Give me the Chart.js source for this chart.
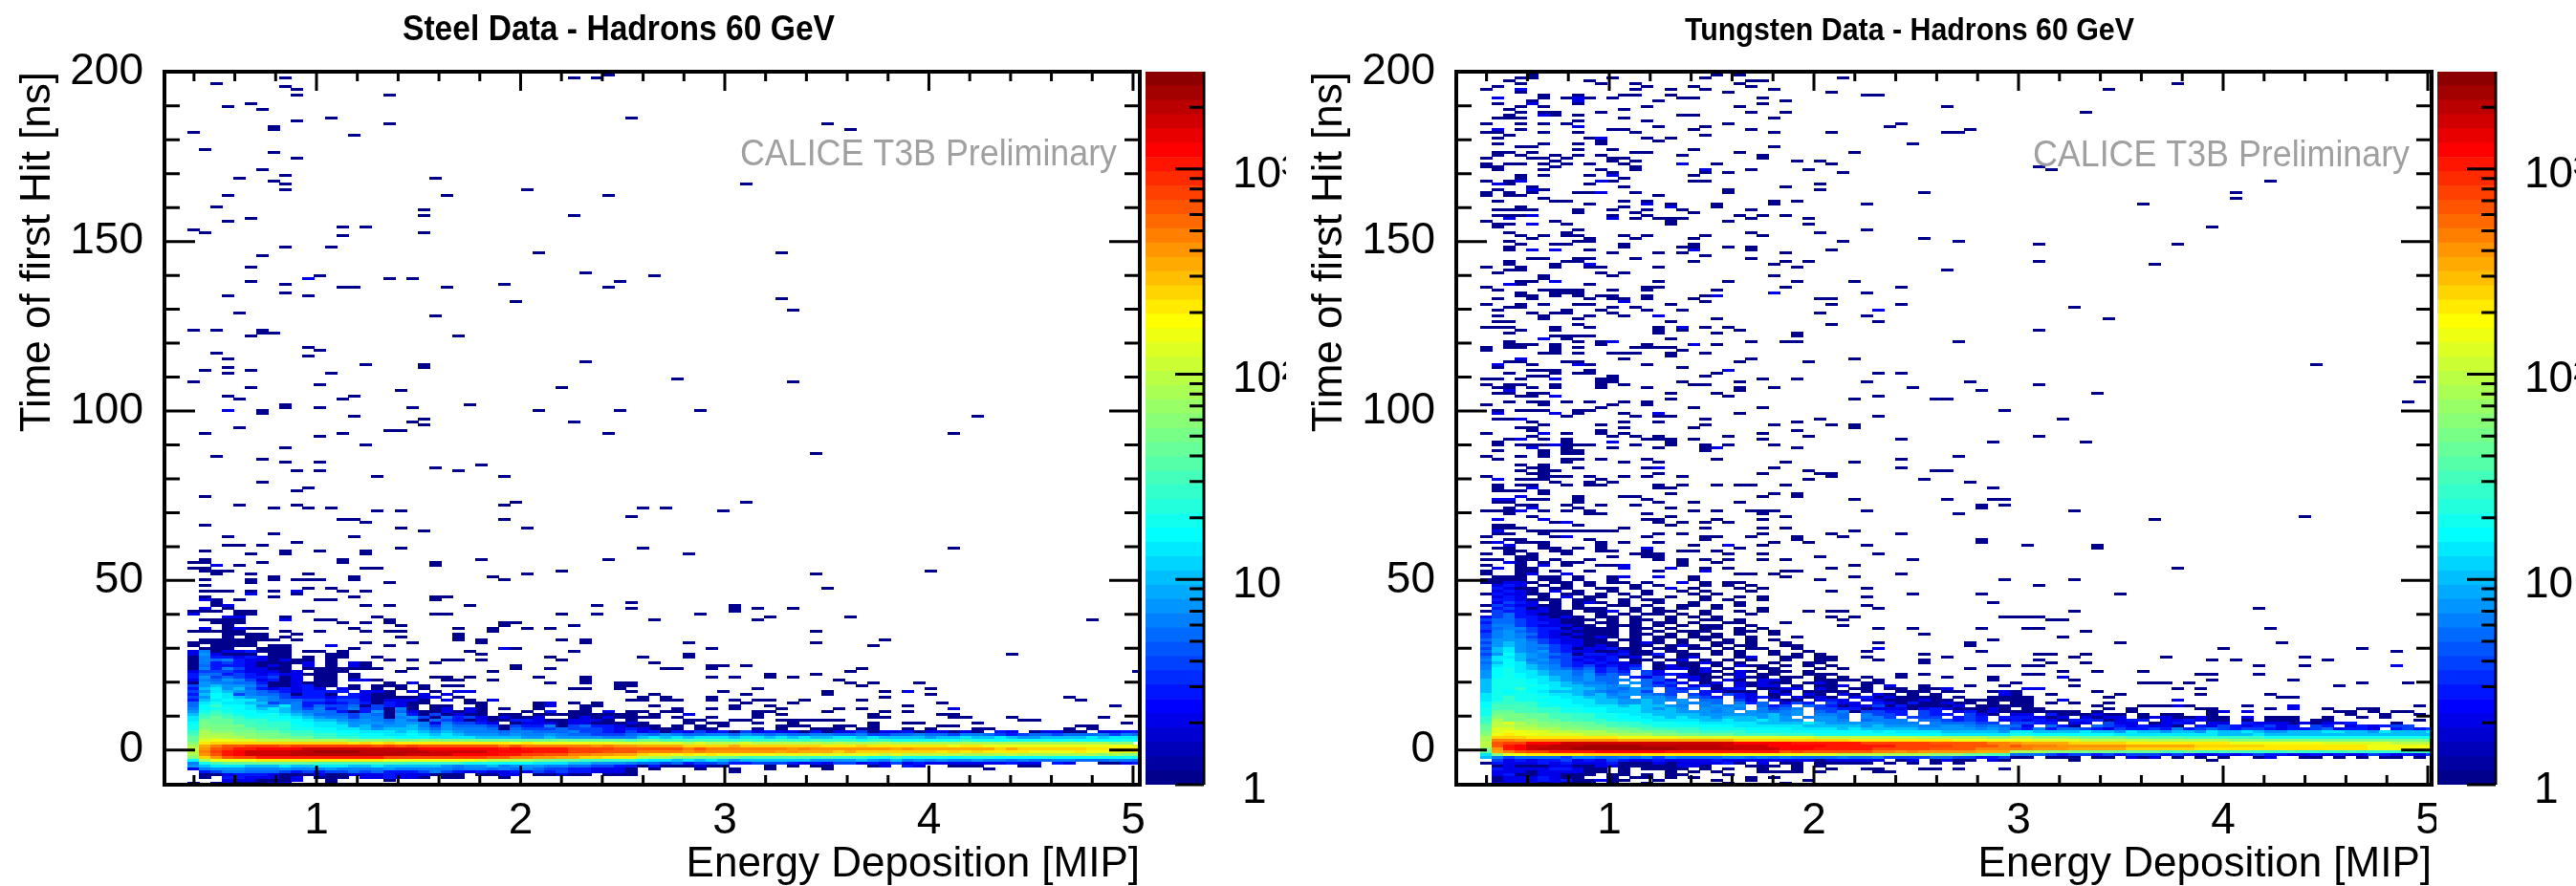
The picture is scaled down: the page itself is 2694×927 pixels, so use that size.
<!DOCTYPE html>
<html>
<head>
<meta charset="utf-8">
<style>
  html, body { margin: 0; padding: 0; background: #fff; overflow: hidden; }
  body { width: 2694px; height: 927px; position: relative; }
  canvas { position: absolute; top: 0; }
</style>
<script src="https://cdn.jsdelivr.net/npm/chart.js@4"></script>
</head>
<body>
<canvas id="steel" width="1197" height="927" style="left:0"></canvas>
<canvas id="steelBar" width="147" height="927" style="left:1198px"></canvas>
<canvas id="tungsten" width="1197" height="927" style="left:1351px"></canvas>
<canvas id="tungstenBar" width="145" height="927" style="left:2549px"></canvas>
<script>
// tick labels and axis ticks
const energyTicks = [1, 2, 3, 4, 5];
const energyMinor = [0.4, 0.6, 0.8, 1.2, 1.4, 1.6, 1.8, 2.2, 2.4, 2.6, 2.8, 3.2, 3.4, 3.6, 3.8, 4.2, 4.4, 4.6, 4.8];
const timeTicks = [0, 50, 100, 150, 200];
const timeMinor = [10, 20, 30, 40, 60, 70, 80, 90, 110, 120, 130, 140, 160, 170, 180, 190];
const countTicks = [1, 10, 100, 1000];
const countMinor = [2, 3, 4, 5, 6, 7, 8, 9, 20, 30, 40, 50, 60, 70, 80, 90, 200, 300, 400, 500, 600, 700, 800, 900, 2000];
const countLabels = {1: '1', 10: '10', 100: '10²', 1000: '10³'};

// letter code used in the dense rows -> bin content
const countCode = 'abcdefghijklmnopqrstuvwxyzABCDEF';
const countValue = [1, 2, 3, 4, 5, 6, 8, 10, 13, 16, 20, 25, 32, 40, 50, 63, 80, 100, 125, 160, 200, 250, 320, 400, 500, 630, 800, 1000, 1250, 1600, 2000, 2500];

// steel: dense part, time bin 46 (first string) down to time bin 0, one letter per energy bin
const steelDense = [
  'bfabbcaaa. aa.a',
  'bgbaaa.aa. ..aa',
  'afccbcbaa. a.a',
  'afefcbbaba a.a',
  'afcdcbaaaa b.a.ba',
  'aecccbaba. b.a.ba',
  'afcfdbbaa. aaaaaaa',
  'bdddcbbbab .aaa',
  'ceecdcbcbb aaa.a',
  'cgdedccdab .aa.a',
  'bfegfdbcab .aa.bba',
  'agffeecaab aaa....a.b',
  'dghggfdaab caa.a.aaa. a.aa',
  'chighecbcb cb.ba.a.a. a',
  'dgihgfedcb cccc.bba.b .a.bb',
  'chjidfeeda cca.cbaa.. b.b',
  'dgjihggfdc ccbccbaaaa bb.a',
  'chijiigfee ddcddbabbb a.b.a.b',
  'eikiihhdef ccbcdcacba a...aa....ab.a.a',
  'ejljjiggif ceddeadcba .aa..a....ab..aa',
  'fjkkjihihf dfcdfcdafa .ab.ba.a..a...a',
  'gklkjjiihg ffecacgaeb aababa...a .c.aa.b',
  'hlmlkjjkih geeedfeagc adabaa.aa. aaaaaaaaa',
  'imnmlkkkji hgffdffafg daecdbabaa b..ababaaa',
  'innnmllkkj ihhgfgfege aedcabaacc baabbba.a',
  'jonnmmlllj jiihgggfgg fbfddcb.ab bbabbaaab',
  'koooommllk jiiighfggh fdgeeedadc cfadeccba',
  'kpoonnmmlk kjjiihghhh gegfffeaed ddedddcbcb',
  'lqppoonnml lkkjjiiihi hghgfffeff eeefddcbd bcacbdbcadbcbbacabbdabbcabbaba.cb.abbaa.bbcc',
  'mqqqppoonm mllkkjjiij ihihgggfgf fgfeeddde fegfeeffegfefeeffeefddeefeedffedcdeedeeefdfe',
  'nrrqqppoon nmmllkkkjj jiiiihhhhg ghggggfff hihihiiihiihihihhiihihhhhghhihhihgghhhhihiii',
  'nsttssrrrq qqqqppppoo ppooonnnnn nnonnnnnm nnmmmmmmlmllmllmlllkllkkkkkklkkjkkkkjkjjjjkj',
  'puvvvvvvvv vvvvuvuvuu uuuuuuuutu ttttttts sssssrsrrrsrrrrrrqrqqqrqqqqqqqqqqqqqqqqqqqpp',
  'qwyzzAAAzA AAAAAAzAzA zzzzzzzyzy yyyyyxyxx wwwwvvvvwvvvvvvvuuuvuuuuuuutuuttttttttttttts',
  'rxzABBCCCC DDDDDDDDDD CCCCCCCBCB BBBAAAAzz zzzzyzyyyyyyyxyxxxxxxxwxwwwwwwwvwvvvvvvuuuuu',
  'ryABCDDDDE EFFFFEEEEE EDDDDDCCCC BBBAAAzzzy yyyxyxxxxxxwxwwwvwvvvvvvvuvuvuuuuttttutttttt',
  'qxzBCDDDDE EEEEEEEEED DDDCCCCBBA AzzyyxxwwV'.replace('V', 'v') + 'uutututttttststsssssrsrrrrrqqqqrqqqqqqqpqppp',
  'pvxzAABBBB BBBBBBBAAA AAAAAAzzyy xxwwvvuuu nnnnnnnnnmmmmmmlmlllkklkkkkjkkkjjjjkjjjjkjkk'.replace('nnnnnnnnn', 'rqqppoonn'),
  'jqttttuuuu uuuuuuuttt tttttsrrqq ponnmmlll jiihihihghhhhhhgggghgfhfgfgffgffefeeffeeeffe',
  'fkmnnnnnnn nmmmmmmmml llllkkkjjj iiihhgggf eedecddeccdddcbcbddbcbdbcbbbbbbbcbb.cb..aabcb',
  'ghiiihhhih hiiihhihhh hhgfgghfgg gffeeddcc acaaabaa...a.a.aa...ab.cb..aaa...aa',
  'bfgggfffgf ffgffffgff fffeffefef eddccbbba .a...a..a..a....a.............a',
  '.cdffeeedc dcddedeccc dfdcbcbbcb dcdccbbba ........a',
  '.aabcccbaa abaabbbcbb baaa.aabb. aabaa.aaa',
  '.a.ccbbbab .aaa.bbcbb a.aa...a',
  '...bbbaaab ..a....a',
  'a.abaaabb. ..a',
];

// steel: isolated bins with one entry, [time bin, energy bins...]
const steelSingles = [
  [247,36],[246,8,33,35],[244,2],[243,8],[242,9],[240,9,17],[237,5],[236,3],[235,6],[232,12,38],[231,9],[230,17,55],
  [229,7],[228,7,57],[227,0],[226,14],[221,1],[220,7],[218,9],[214,6],[212,8],[211,4,21],[210,7],[209,8,48],[207,8,29],
  [205,3,22,36],[201,2],[200,20],[198,20,33],[197,5],[196,3],[194,13,15],[193,0],[192,1,20],[191,13],[187,8,12],
  [185,30,51],[184,6],[180,5],[178,34],[177,11,40],[176,17,19],[175,5,37],[174,8,27],[173,13,14,22,36],[171,8],[170,3,10],
  [169,51],[168,28],[165,52],[164,4],[163,21],[158,0,2,6],[157,6,7],[156,5,23],[152,10],[151,11],[150,2],[149,10],[148,3],
  [147,34],[146,15,20],[145,3,20],[144,1,5],[143,3,12],[141,42],[140,0,52],[139,11],[138,5,32],[137,18],[135,3,14],[134,4,13],
  [132,8,24],[131,8,11,19],[130,6,30,37,44],[129,6],[128,14,68],[127,20],[126,19,33],[125,20],[124,4],[123,17,18],[122,1,13,36,66],
  [121,11],[118,15],[117,8],[115,54],[114,2],[113,6],[112,8,11],[111,25],[110,21],[109,9,11,23],[107,16,27],[105,6],[103,10],[102,9],
  [100,1],[98,28,48],[97,4,9,27],[96,7,10,12,39,41],[95,16,18,46],[93,38],[92,13,14,27],[91,15],[90,1],[89,18,29],[88,20],[87,7],
  [86,3,14],[84,9],[83,3,4,6],[82,18,39,66],[81,1,8,11,15],[80,5,8,15,43],[78,1,13,25,36],[77,0,1,6,13,21],[76,4,21],[75,0,1,15,16],
  [74,1,2,3,32,64],[73,2,5,10,29,54],[72,7,14,26],[71,1,5,7,9,10,11,14,27],[70,5,17],[69,1],[68,10,12,55],[67,1,2,3,5,7,13,15],[66,9],
  [65,1,7,14,21,22],[64,2,4,11,12,21],[63,2,38],[62,2,15,17,24,35,47],[61,3,38,47,49,52],[60,0,1,2,4,5,10,47],[59,4,5,21,22,32,35,44],
  [58,8,16,50,57],[57,1,2,3,4,11,12,17,40,49,78],[56,2,3,4,13,15,17,27,28],[55,3,18,27,33],[54,3,5,6,14,23,26,29,31],
  [53,0,1,2,3,4,8,11,15,17,18,26,54],[52,3,4,5,6,9,23],[51,3,5,6,8,18,23],[50,1,2,3,4,5,6,7,9,23,25,32,34,60],
  [49,0,1,2,3,4,5,15,19,25,34,43,54],[48,0,2,3,4,5,7,8,17,59],[47,1,2,3,6,7,8,14,28,45],
  [46,24,33],[45,25,43,71],[44,13,16,31,39,43],[43,17,19,22,23,25,32],[42,21,40],[41,28,45,46,48],[40,19,28,31,41,42,45,58],
  [39,18,26,57,82],[38,50,54],[37,21,22,24,30,34,45,47,50,52],[36,22,23,26,34,56],[35,31,34,37,38,57,59,63],[34,37,38,58],
  [33,33,34,37,49,64],[32,38,46,55,60],[31,40,48,55,64],[30,39,41,45,60,76],[29,38,39,41,42,45,47,49,50,53,58,77],[28,48,52,65],
  [27,40,47,50,62,80],[26,42,45,47,51,56,58],[25,38,39,41,42,49,50,55,60,62],[24,38,40,49,51,59,65,66],[23,38,40,42,45,49,59,60,66,67,71,79],
  [22,43,44,47,48,51,52,53,54,55,56,72,73],[21,38,39,43,45,46,49,52,59,62,63,68,81],[20,39,40,42,44,46,51,52,53,56,57,59,65,66,77,78],
  [19,40,41,42,44,45,49,51,54,55,56,58,59,62,64,68,69,76,78],
];
// steel: isolated bins with two entries
const steelDoubles = [
  [176,10],[130,3],[76,2],[67,9],[66,5],[64,1],[62,3],[61,1],[59,0],[58,3,4],[57,8],[54,1,4],[48,12],[47,27],[32,62],[26,66],[24,43],
];

// tungsten: dense part, time bin 70 (first string) down to time bin 0
const tungstenDense = [
  'aabba.aa.a .aa.a..b.a .aa',
  '.bcb.a.a.a ...a.a...a .a.a',
  '.cbaa.aa.. aa.a..b.a. ..a.a',
  '.bcba.b.a. .a..a..a.a ...a',
  'acbbaa.aa. a.a.a...a. a',
  '.bcb.a.b.a a..a..a..a ..a.a',
  '.ccbaaa.aa ..a.aa...a .a..a',
  '.bdcb.a.ab a.a..a..a. ..a',
  'adcbbaa.a. .aa.a..aa. a.a',
  '.cdcaba.aa a..a.a.a.. a...a',
  'adccbbaa.a ab.a.aa..a ..a.a',
  '.decbaaa.. a.a.aa.a.a ...a',
  'bdeccbaba. aa.a..a.a. a',
  'deedcbbaaa .a.aa.a..a a.a',
  'ceedccbaa. aa.a.aa.a. .aa...a',
  'dffdcbbbaa .aaa.a.a.a a..a',
  'deffdccaba aa.aa.a..a a.a.a',
  'cfgedcbbaa aa.a.a.aaa ..aa.a',
  'dfgfecbaba aa.aa.a.a. a.a..a',
  'dfgfdcbbaa ba.a.aa.aa a..a...a',
  'egggedcbba a.aa.a.a.a .a.a.a',
  'dghgfdcbba aa.aba.a.. aa.a..a',
  'eghgffdcba ba.aa.aba. a.aa..aa',
  'dhigfedcab bcaa.aa.aa .a.aa..a',
  'ehigfgdcbb aabaa.aa.. a.a..a..a',
  'dgjhgfedac cbcaac.aa. a.a..a.a.a',
  'eiihgfddcb bcab.a.ab. ..ab..aa.a',
  'fijhfgedbc bc.aa.ab.a .a.a..a..a',
  'ehjigfedcb cbba.a.aab a.a..a..aa',
  'fijihgfdcd bcbc.abaa. a.baa.a.a.a',
  'fjkihgfede cdbd.abbab .a..aa...a',
  'gjkiihggef cdc.db..ab a.ba.aa.a',
  'gjkjihggeg ded.dbcbaa .ab.aa..aa a',
  'gjkjiihgfg ee.cbd.bba a.baa.aa.a .a',
  'hkkkjihgfg eef.edb.ba .ba.bba..a a.a',
  'hkkkjiihgf fe.gecdb.a b.babaa.ab a..a',
  'hkkkkjihhg gfg.edc.bc a.babb.a.a ab.a.a',
  'hkkljjiihh gfegf.dcd. abc.aabb.b a.aa.aa',
  'hkjkjihhhg fefgd.dd.c baaa.ba.aa .a.a..a.a .aa...ba',
  'ikkkkjiihg hfggfed.dc .dcb.ab.ba .ba.ba.a.a',
  'iklkkkjiih hgf.gge.ed c.cbca.bab a.bc.ba.aa .a',
  'iklkkjjjii hhgghgfg.e e.db.caa.b cb.bbaa.ba a.a.a',
  'jllllkjjii hhgghg.gff e.fce.bdc. dbb.cbac.a ba..a',
  'jmmmlkkjji iihihhgf.f gfg.ecd.ed c.bbd.ca.a ab.aa..a',
  'kmmmmllkkj jiiihghg.g fgf.fdef.d dcc.bbb.bc ba.aba..a',
  'knnmmllkkj jiiihhhggg fg.gfefg.e df.ddcc.dc .bc.baa.aa .a.a',
  'kooonnmmll kkjiihhhhg ggggghfg.f fe.fddc.dc c.dba.bb.c aa.baa',
  'lpoonnmmll kkjjiihihh ghhhghg.fg ge.ffd.ddd .cdc.cccba b.babb.abb aa.a',
  'lqoopnnmml lkkjjiiiih hihhihgg.g gf.efff.ee dcdc.bcbcb .ccc.bcc.b bcb.a.a..aa',
  'mrsqppoonn mmllkkkjji iiiihhhhih gggggfff.f eeedd.ddcc .bb.dbb.ab cb.bb.cbbb .babbc',
  'nrrqqppoon nmmllkkkkj jjiiiiiihh hhhghgggff ggfefe eb.eca.edcb cbba.cbdcbcdbc.dc.bcbcdd',
  'nssrrqqppo oonnmmlllk kkkjjjjiii ihihhhhhgg gggfgf dcfceedcbd ccdcfcdedc ddcbccdebc cb.cdcdeeb',
  'osttssrrqq qppoonnmml lllkkkkkjj jjjjijiiii hhhhhg iihhhhihhg ihhghhgihh ihgghhhiih hgihhhihi',
  'ptuttssssr rrqqqppoon nnmmmmlllk kkkkkkjjjj iiiiii kkjjjjjjji iiiiiiiihh hihhhhhhhh hhhhhhhhh',
  'qvvvuuuuuu uutttttsss sssssssssr rrrrrrrrqq qqqqpp qqppponnnn mmmmmlllll llkkkkkkkk kkkkkkkkk',
  'qyyxxxxxxx xxwwwwwwww wwvvvvvvvv vvuuuuuuuu uttttt ttssssrrrr rrqqqqqqqp ppppppoooo oooooonnn',
  'rzAACCCDDD DDDDDDDDDD DDCCCCCBBB BBBAAAAAAz zzzzyy xwwwwvvvvv uuuuuuuuut tttttttsss sssrrrrrr',
  'rzBCDDEEEF FFFFEEEEEE EDDDDCCCCC BBBBBBAAAA Azzzzy zyyyxxxxxx wwwwwwvvvv vvuuuuuuuu utttttttt',
  'pxBCDEEEFF FFFFFFFEEE EEDDDDCCCB BBBBAAAAAz zzzyyy yyxxxwwwww vvvvvvuuuu uuuuuuuuuu uttttttu',
  'nwyzAABBBB CCCCCCBBBB BBBBBBzAzz zzzzyyxyxx xxxwww qqqppoooon nnnmmnmmmm mlmlmllllm lllllllll',
  'ipstuuuuuv vvvvuuuuuu utttttttss srrrrqqqqp ppnnmm eeedcddcdc dddcdcbbcb cdccbbcbcb bdcbcbddh',
  'hfdeeeedff eefefdfeee effefefeee efeefdddde eddccd aa.aaa.aa. bab.a.a.a. .ab..aa.a. a.aa.a.a',
  '.dbcbccdbc bdcbbcbbbb cbbbbbbbba bbbbb.ab.a baa.ba .....a.... .......a',
  'acbbbcbcbb bcaaababbb bca.b.aa.a aaaa.a.a.a .a....',
  '.abaaabbaa bbaaaaabba ...aaa.a.a',
  '.cbbbbccba a.a.aaaa.a .a..a..a.. a..aa...aa .a...a',
  '.bbbabbbba a.a...a.a. a...aaaa.a ....aa',
  '.bcaabbaaa .aa.a.aa.. .a',
  '.abbbcbaa. .a.aa.a.a. ...a.a',
  '.abbbcbcaa baa..a.... a..a....a',
  '.bbbbabaaa .a..a..... .a....a',
];

// tungsten: isolated bins with one entry, [time bin, energy bins...]
const tungstenSingles = [
  [248,1,3,4],[247,4,20,22],[246,3,4,11,19,31],[245,2,9,23,24],[244,3,10,13,22,60],[243,1,14,18,23],[242,0,13,16,19,25,54],[241,3,21,30],
  [240,5,8,12,13,16,33,34],[239,5,7,9,11,17,18,24],[238,4,15,26],[237,1,8,24],[236,3,5,14,22,40],[235,2,12],[234,3,5,6,10,23,26,52],
  [233,2,6,8,17,18],[232,1,2,3,12,25],[231,8,14],[230,0,3,5,7,21,36],[229,15,19,35],[228,3,11,12,18,23,42],[227,0,1,5,8,13,25,30,40,41],
  [226,2,19],[225,1,9,14,16],[224,10,15],[223,1,5,8,10,37],[222,3,4,25],[221,8,11,18],[220,1,2,4,13,14,22,32],[219,1,3,6,8,10,17,24],
  [218,0,4,5,7,11,12,24],[217,6,11,13,27,29],[216,0,2,3,5,7,9,12,17,20,30],[215,0,1,6,13,48],[214,1,5,10,13,23,28,49],[213,11,19,21,31],
  [212,3,5,9,18],[211,3,12],[210,0,2,11,18,19,68],[209,2,9,29],[208,4,12,26],[207,1,5,21,29],[206,0,2,4,8,9,13,21,38,65],[205,0,2,3,15],
  [204,5,65],[203,1,6,7,12,14,25,27],[202,9,16,20,25,33,57],[201,3,12,20],[200,1,3,8,11,14,17,2,4,23],[199,8,13,18],[198,1,2,3,11,14,22,24,26],
  [197,11,13,15,16,17,23,28],[196,0,6,16,21],[195,1,2,7,16,28],[194,1,63],[193,8,33],[192,2,7,23,29],[191,3,5,7,8,12,14,19,24],
  [190,4,9,13,18,38],[189,2,8,9,31,41],[188,3,6,7,12,18,48,60],[187,2,12,17,18,21,23],[186,2,9,23,30],[185,26,11,15,17],[184,19],
  [183,4,5,8,9,13,23],[182,2,7,8,18,26,28,48],[181,2,6,25,58],[180,0,3,6,10,15,27,9],[179,2,3,40],[178,1,10,12],[177,5,11,25],[176,5],
  [175,3,4,15,21,27,32],[174,3,9],[173,0,14,15,26,36],[172,1,5,6,7,8,11,14,20],[171,3,6,7,8,33],[170,3,4,6,14,19,8,10,11],[169,1,4,14,9,11,12,18,29,30],
  [168,12,19],[167,0,3,5,8,9,16,30,36],[166,2,3,11,13,51],[165,1,7,10,14,17],[164,4,6,7,11,29],[163,1,5,9,12,33],[162,5,8,20,54],[161,1,2,16,34],
  [160,8,30],[159,0,1,2,6,9,15,19,21],[158,3,6,15,17,22,48],[157,2,15,20,27],[156,6,7,8,9,27],[155,7,16],[154,2,8,10,23,26,27,41],[153,3,4,6,2,10,14,20],
  [152,0,2,3,6,8,13,14,15,16],[151,0,6,17],[150,5,6,8,11,12,13,16,19],[149,16],[148,12,23,32],[147,2,3,7,8,22,28],[146,4,9,14,72],[145,1,17],
  [144,4,5,6,9],[143,2,6,8,9,20,34,36],[142,4,5,11,19],[141,0,1,3,10,11,24,27],[140,10,11,17,22,33,42,81],[139,0,2,3,6,10,12,18,19,48],[138,1,2,4,6,10,14,22,25,37],
  [137,22,43],[136,1,2,4,5,16,20,53],[135,3,4,21,34],[134,16,32,39,40],[133,2,4,5,7,9,12,14,80],[132,0,5,11,14],[131,10,18,24],[130,1,3,4,5,8,9,45],
  [129,8,12,22],[128,7,13,15,16,34],[127,1,2,19,29,50],[126,4,12,15,27],[125,5,10,19,25,30,32],[124,3,4,12,18,32],[123,4,10,27],[122,0,7,10,12,24],
  [121,4,11,13,15,21,28,48],[120,2,5,7,14,15,16,18,24,36],[119,1,7,16,44,52],[118,1,3,4,5,7,8,9,13,16,19,21,25],[117,7,11,15,19,27],[116,1,5,7,8,19],
  [115,5,7,8],[114,0,3,5,41],[113,1,7,8,10,14,20,36],[112,7,12,15,26,32],[111,3,5],[110,4,5,8,14,25,36],[109,3,5,6,28,39,40],[108,4,5,15,24,29,30],
  [107,0,5,6,7,9,12,14,17,30],[106,3,4,5,10,28,38],[105,6,9,11,42],[104,1,3,4,7,9,10,15,17,20,22,23,26],[103,1,15,16,44],[102,1,2,3,5],[101,5,16,25,27],
  [100,8,12,13,24,27],[99,4,5,8,14,32,40,44,45],[98,1,2,8,15,18,22],[97,3,4,7,10,13,43,45],[96,2,8,16,43],[95,0,1,2,5,7,9,18,20,23,24,25,33,51],
  [94,2,9,10,14,24,41],[93,4,16,26,71],[92,14,15,20,24,58],[91,6,15,17,19,21],[90,1,2,8,16],[89,1,2,3,12,19,24,26],[88,4,5,6,7,8,9,10,11,32],
  [87,1,2,5,15,17,24,30,36],[86,0,6,14,19,20,23,27,31],[85,2,3,9,19,27,43],[84,0,3,4,5,10,12,15,25,28,43],[83,5,10,18,24,33,47,53],[82,1,2,5,6,8,10,22,53],
  [81,2,3,6,7,10,11,14,17,18,20],[80,0,2,4,7,13,14,15,21,24,34],[79,3,4,11,14,15,29],[78,0,1,3,4,6,9,15,17,19,21,24,26,37],[77,3,5,7,8,17,20],[76,0,3,7,10,11,17,32],
  [75,3,4,19,21,30,60],[74,0,3,4,6,9,15,26,27],[73,0,3,22,23,25,36],[72,1,2,3,5,6,8,11,18,26,32],[71,0,1,2,3,5,6,8,11,18,29,45,51],
  [69,48],[68,33],[67,30],[66,37,43,55],[65,33],[63,44],[62,33],[61,34,67],[60,28,30,31,51],[58,30,32,45,46,47,48],[57,31,49,50],[55,31],[54,34,37,43,47,48,68],
  [53,52],[52,38],[51,50],[50,44],[49,34,42,55,69],[48,42],[47,64,76],[46,33,43,79],[45,38,48,49,52],[44,30,33,40,51,59,71],[43,30,34,38,48,63,65,73],
  [42,38,49,52],[41,44,45,47,48,67,71,79],[40,31,42],[39,50,53,57],[38,36,38,47,48,62,63,67],[37,33,36,40,44],[36,31,32,34,44,51,63,70],[35,33,34,46,57,58,59,61,76,80],
  [34,38,42,45,51,74],[33,38,39,60,62],[32,30,33,37,44,45,53],[31,37,46,49,55,62,68],[30,30,34,35,37,38,41,44,45,46,47,54,69,70],[29,31,33,36,37,39,40,42,43,45,46,47],
  [28,30,32,34,35,37,38,41,42,44,46,47,49,51,54],[27,31,33,35,36,38,39,40,43,45,46,47,53,57,58,59,61,66,81],[26,30,31,33,34,36,37,40,41,42,44,45,47,54,56,62,63,68,73,76,77],
  [25,32,33,35,36,38,39,41,43,44,46,47,48,49,50,56,63,74,75,77,79,80],
  [24,52,53,57,59,60,63,75,78,81],[23,47,48,52,53,54,55,59,64,68,69,70,73,76,78],[22,46,47,48,49,50,54,56,60,63,64,66,68,70,72,73,81],
  [21,48,54,56,60,63,68,70,71,79],
];
// tungsten: isolated bins with two entries
const tungstenDoubles = [
  [242,3],[239,1,8],[238,8],[237,4],[233,5],[229,8],[228,1],[225,10],[216,17],[214,19],[212,11],[210,3,10],[209,1],[207,4],[206,10],[202,14],[201,16],[198,4],
  [197,2,11],[195,4],[186,4,6,18],[181,9],[175,6],[174,2],[171,25],[170,20],[168,12],[165,34],[163,15],[159,17],[155,5],[154,11],[153,18],[148,3],[146,1,8],
  [144,21],[141,6],[137,2],[135,6],[129,1,6,15],[127,3],[122,5],[120,3],[119,11],[118,6],[117,4,20],[110,15],[106,1],[103,4],[100,3],[99,1,2],[96,4],[95,3],
  [92,1,5],[91,7],[88,1],[86,7],[84,1],[83,2,21],[82,14],[77,2],[76,5,12],[75,1,12,16],[74,19],[73,4,7],[72,12,15],[47,34],[41,79],[37,50],[34,35],[33,40,47,48],
  [31,45],[29,50,60],[27,60,70],[26,70],[25,64,66],[23,62,66],[21,46,47,51,59],
];

const zMax = 2980;
const paletteStops = [[0, 0, 0, 128], [0.11, 0, 0, 255], [0.35, 0, 255, 255], [0.5, 128, 255, 128], [0.65, 255, 255, 0], [0.89, 255, 0, 0], [1, 128, 0, 0]];
const paletteSize = 50;

function paletteColor(f) {
  let i = 1;
  while (i < paletteStops.length - 1 && paletteStops[i][0] < f) i++;
  const a = paletteStops[i - 1], b = paletteStops[i];
  const t = (f - a[0]) / (b[0] - a[0]);
  const ch = k => Math.round(a[k] + (b[k] - a[k]) * t);
  return `rgb(${ch(1)},${ch(2)},${ch(3)})`;
}
const palette = Array.from({length: paletteSize}, (_, i) => paletteColor((i + 0.5) / paletteSize));

function colorForCount(count) {
  const f = Math.log10(count) / Math.log10(zMax);
  return palette[Math.min(paletteSize - 1, Math.floor(f * paletteSize))];
}

// one small canvas per colour, used as point style so the cells stay scatter points
const sprites = {};
function cellSprite(color) {
  if (!sprites[color]) {
    const c = document.createElement('canvas');
    c.width = 13;
    c.height = 3;
    const g = c.getContext('2d');
    g.fillStyle = color;
    g.fillRect(0, 0, 13, 3);
    sprites[color] = c;
  }
  return sprites[color];
}

function collectBins(dense, singles, doubles) {
  const bins = new Map();
  const put = (row, col, count) => {
    const key = row + ':' + col;
    if (!bins.has(key) || bins.get(key).count < count) bins.set(key, {row, col, count});
  };
  singles.forEach(([row, ...cols]) => cols.forEach(col => put(row, col, 1)));
  doubles.forEach(([row, ...cols]) => cols.forEach(col => put(row, col, 2)));
  dense.forEach((text, i) => {
    const row = dense.length - 1 - i;
    text.replace(/ /g, '').split('').forEach((ch, col) => {
      const code = countCode.indexOf(ch);
      if (code >= 0) put(row, col, countValue[code]);
    });
  });
  return [...bins.values()];
}

const frame = {
  id: 'rootFrame',
  afterDatasetsDraw(chart, args, opts) {
    const {ctx, chartArea: a, scales: {x, y}} = chart;
    ctx.save();
    ctx.strokeStyle = '#000';
    ctx.lineWidth = 3;
    const xTick = (v, len) => {
      const p = x.getPixelForValue(v);
      ctx.moveTo(p, a.top); ctx.lineTo(p, a.top + len);
      ctx.moveTo(p, a.bottom); ctx.lineTo(p, a.bottom - len);
    };
    const yTick = (v, len) => {
      const p = y.getPixelForValue(v);
      ctx.moveTo(a.left, p); ctx.lineTo(a.left + len, p);
      ctx.moveTo(a.right, p); ctx.lineTo(a.right - len, p);
    };
    ctx.beginPath();
    energyTicks.forEach(v => xTick(v, 20));
    energyMinor.forEach(v => xTick(v, 10));
    timeTicks.forEach(v => yTick(v, 32));
    timeMinor.forEach(v => yTick(v, 16));
    ctx.stroke();
    ctx.lineWidth = 4;
    ctx.strokeRect(a.left, a.top, a.right - a.left, a.bottom - a.top);

    ctx.fillStyle = '#000';
    ctx.font = `bold ${opts.titleSize}px "Liberation Sans"`;
    ctx.fillText(opts.title, opts.titleX, 42, opts.titleWidth);
    ctx.fillStyle = '#a0a0a0';
    ctx.font = '38px "Liberation Sans"';
    ctx.fillText('CALICE T3B Preliminary', opts.noteX, opts.noteY, 394);
    ctx.restore();
  }
};

function drawPanel(id, bins, o) {
  const timeBin = 0.8458, timeMin = -10.23;
  new Chart(document.getElementById(id).getContext('2d'), {
    type: 'scatter',
    data: {
      datasets: [{
        data: bins.map(b => ({
          x: o.energyStart + (b.col + 0.5) * o.energyBin,
          y: timeMin + (b.row + 0.5) * timeBin,
          count: b.count
        })),
        pointStyle: c => cellSprite(colorForCount(c.raw ? c.raw.count : 1)),
        pointRadius: 1,
        pointBorderWidth: 0
      }]
    },
    plugins: [frame, {
      id: 'crisp',
      beforeDatasetsDraw: chart => { chart.ctx.imageSmoothingEnabled = false; }
    }],
    options: {
      responsive: false,
      animation: false,
      devicePixelRatio: 1,
      events: [],
      layout: {padding: {top: 75, right: 5, left: 0, bottom: 0}},
      plugins: {
        legend: {display: false},
        tooltip: {enabled: false},
        rootFrame: o.text
      },
      scales: {
        x: {
          type: 'linear',
          min: o.xMin,
          max: o.xMax,
          afterBuildTicks: s => { s.ticks = energyTicks.map(value => ({value})); },
          afterFit: s => { s.height = 106; s.paddingLeft = 0; s.paddingRight = 0; },
          grid: {display: false},
          border: {display: false},
          ticks: {
            color: '#000', padding: 3, autoSkip: false, maxRotation: 0,
            font: {family: 'Liberation Sans', size: 46}
          },
          title: {
            display: true, text: 'Energy Deposition [MIP]', align: 'end', color: '#000', padding: 0,
            font: {family: 'Liberation Sans', size: 44, lineHeight: 1}
          }
        },
        y: {
          type: 'linear',
          min: timeMin,
          max: timeMin + 746 * timeBin / 3,
          afterBuildTicks: s => { s.ticks = timeTicks.map(value => ({value})); },
          afterFit: s => { s.width = 172; s.paddingTop = 0; s.paddingBottom = 0; },
          grid: {display: false},
          border: {display: false},
          ticks: {
            color: '#000', padding: 14, autoSkip: false,
            font: {family: 'Liberation Sans', size: 46}
          },
          title: {
            display: true, text: 'Time of first Hit [ns]', align: 'end', color: '#000', padding: {top: 18, bottom: 0},
            font: {family: 'Liberation Sans', size: 44, lineHeight: 1}
          }
        }
      }
    }
  });
}

const barAxis = {
  id: 'barAxis',
  afterDatasetsDraw(chart) {
    const {ctx, chartArea: a, scales: {y}} = chart;
    ctx.save();
    ctx.strokeStyle = '#000';
    ctx.lineWidth = 3;
    ctx.beginPath();
    ctx.moveTo(a.right, a.top); ctx.lineTo(a.right, a.bottom);
    countTicks.forEach(v => { const p = y.getPixelForValue(v); ctx.moveTo(a.right, p); ctx.lineTo(a.right - 30, p); });
    countMinor.forEach(v => { const p = y.getPixelForValue(v); ctx.moveTo(a.right, p); ctx.lineTo(a.right - 15, p); });
    ctx.stroke();
    // ROOT puts these labels a little under the tick
    ctx.fillStyle = '#000';
    ctx.font = '46px "Liberation Sans"';
    ctx.textBaseline = 'middle';
    countTicks.forEach(v => {
      const offset = v === 1 ? 40 : 30;
      ctx.fillText(countLabels[v], a.right + offset, y.getPixelForValue(v) + 6);
    });
    ctx.restore();
  }
};

function drawColorBar(id) {
  const logMax = Math.log10(zMax);
  new Chart(document.getElementById(id).getContext('2d'), {
    type: 'bar',
    data: {
      labels: ['z'],
      datasets: palette.map((color, i) => ({
        data: [[Math.pow(10, logMax * i / paletteSize), Math.pow(10, logMax * (i + 1) / paletteSize)]],
        backgroundColor: color,
        grouped: false,
        barPercentage: 1,
        categoryPercentage: 1
      }))
    },
    plugins: [barAxis],
    options: {
      responsive: false,
      animation: false,
      devicePixelRatio: 1,
      events: [],
      layout: {padding: {top: 75, bottom: 106, left: 0, right: 0}},
      plugins: {legend: {display: false}, tooltip: {enabled: false}},
      scales: {
        x: {display: false},
        y: {
          type: 'logarithmic',
          position: 'right',
          min: 1,
          max: zMax,
          afterBuildTicks: s => { s.ticks = countTicks.map(value => ({value})); },
          afterFit: s => { s.width = s.chart.width - 61; s.paddingTop = 0; s.paddingBottom = 0; },
          grid: {display: false},
          border: {display: false},
          ticks: {display: false}
        }
      }
    }
  });
}

drawPanel('steel', collectBins(steelDense, steelSingles, steelDoubles), {
  xMin: 0.2553, xMax: 5.033, energyStart: 0.3677, energyBin: 0.05649,
  text: {title: 'Steel Data - Hadrons 60 GeV', titleSize: 37, titleX: 421, titleWidth: 452, noteX: 774, noteY: 173}
});
drawPanel('tungsten', collectBins(tungstenDense, tungstenSingles, tungstenDoubles), {
  xMin: 0.2523, xMax: 5.0187, energyStart: 0.3692, energyBin: 0.05636,
  text: {title: 'Tungsten Data - Hadrons 60 GeV', titleSize: 33, titleX: 411, titleWidth: 470, noteX: 775, noteY: 174}
});
drawColorBar('steelBar');
drawColorBar('tungstenBar');
</script>
</body>
</html>
